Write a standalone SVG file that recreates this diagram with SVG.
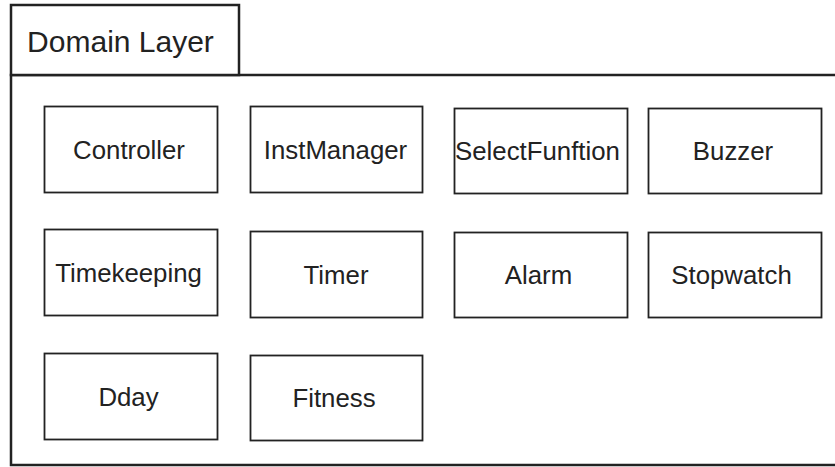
<svg xmlns="http://www.w3.org/2000/svg" width="835" height="467" viewBox="0 0 835 467">
<style>
.frame{fill:#fff;stroke:#222;stroke-width:2.5}
.box{fill:#fff;stroke:#222;stroke-width:1.8}
.lbl{font-family:"Liberation Sans",Arial,sans-serif;font-size:25.8px;fill:#222;text-anchor:middle;dominant-baseline:central}
.title{font-family:"Liberation Sans",Arial,sans-serif;font-size:30px;fill:#222;text-anchor:middle;dominant-baseline:central}
</style>
<rect width="835" height="467" fill="#fff"/>
<g id="domain-layer">
<path class="frame" d="M840 75 H11 V465 H840"/>
<rect class="frame" x="11" y="5" width="228" height="70"/>
<text class="title" x="120.5" y="41">Domain Layer</text>
</g>
<g id="controller"><rect class="box" x="44.5" y="106.5" width="173" height="86"/><text class="lbl" x="129" y="149.5">Controller</text></g>
<g id="instmanager"><rect class="box" x="250.5" y="106.5" width="172" height="86"/><text class="lbl" x="335.5" y="149.5">InstManager</text></g>
<g id="selectfunftion"><rect class="box" x="454.5" y="108.5" width="173" height="85"/><text class="lbl" x="537.5" y="151">SelectFunftion</text></g>
<g id="buzzer"><rect class="box" x="648.5" y="108.5" width="173" height="85"/><text class="lbl" x="733" y="151">Buzzer</text></g>
<g id="timekeeping"><rect class="box" x="44.5" y="229.5" width="173" height="86"/><text class="lbl" x="128.5" y="272.5">Timekeeping</text></g>
<g id="timer"><rect class="box" x="250.5" y="231.5" width="172" height="86"/><text class="lbl" x="336" y="274.5">Timer</text></g>
<g id="alarm"><rect class="box" x="454.5" y="232.5" width="173" height="85"/><text class="lbl" x="538.5" y="275">Alarm</text></g>
<g id="stopwatch"><rect class="box" x="648.5" y="232.5" width="173" height="85"/><text class="lbl" x="731.5" y="275">Stopwatch</text></g>
<g id="dday"><rect class="box" x="44.5" y="353.5" width="173" height="86"/><text class="lbl" x="128.5" y="396.5">Dday</text></g>
<g id="fitness"><rect class="box" x="250.5" y="355.5" width="172" height="85"/><text class="lbl" x="334" y="398">Fitness</text></g>
<g id="connectors"></g>
</svg>
